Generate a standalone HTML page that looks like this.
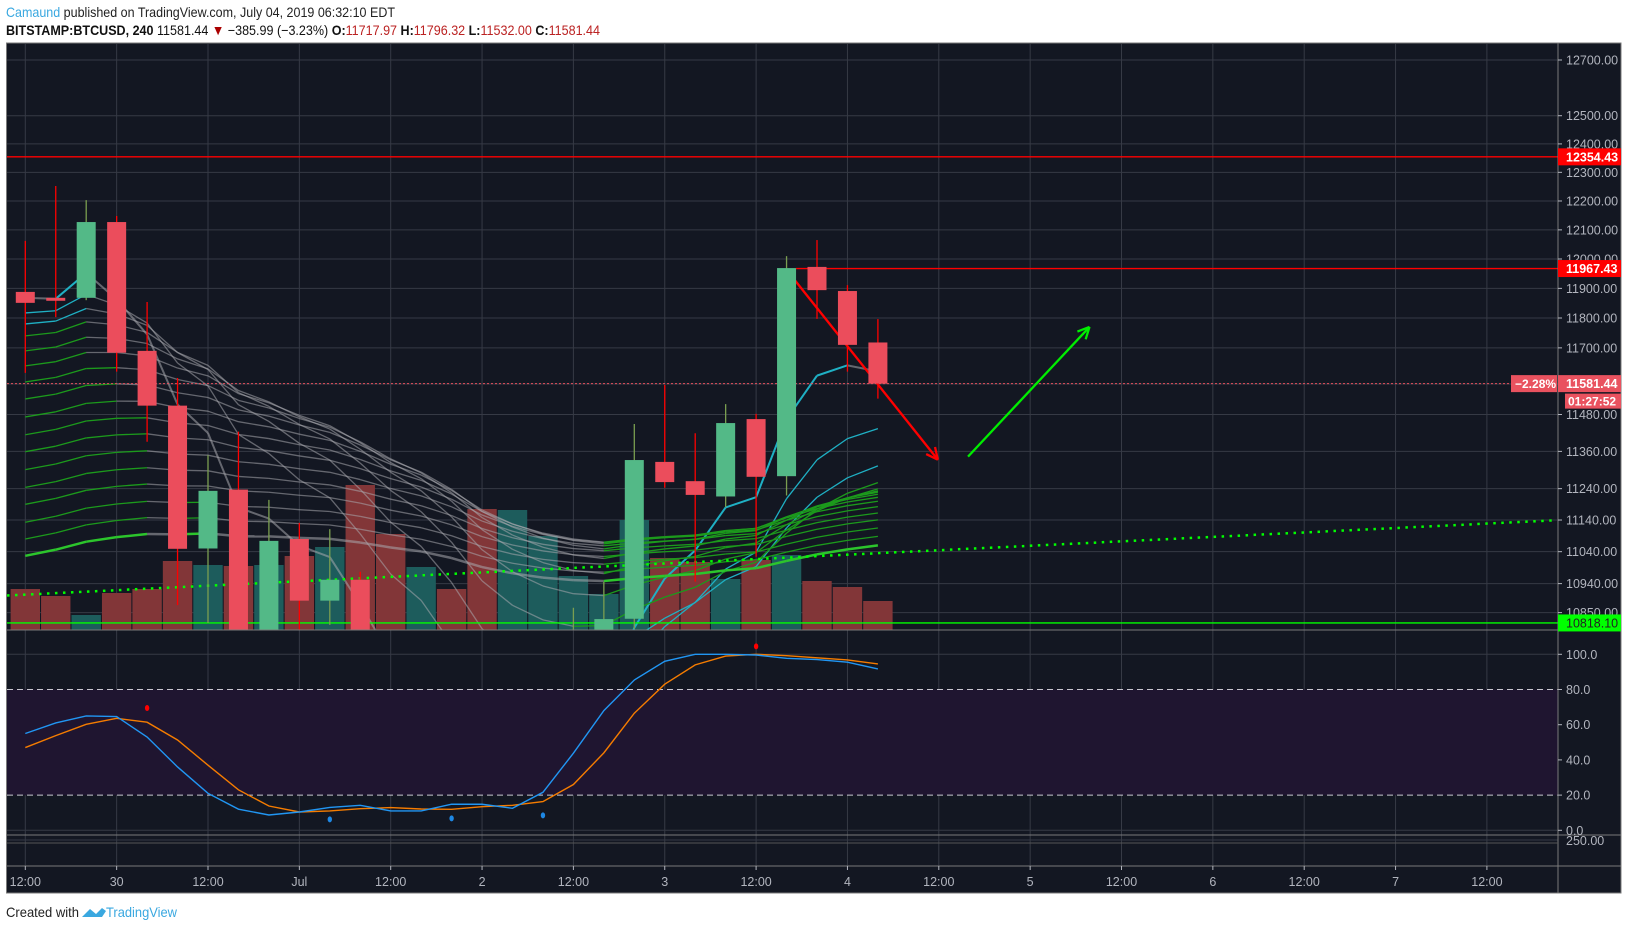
<!DOCTYPE html>
<html><head><meta charset="utf-8"><style>
html,body{margin:0;padding:0;background:#fff;width:1627px;height:930px;overflow:hidden;position:relative;}
svg{display:block;position:absolute;left:0;top:0;font-family:"Liberation Sans",sans-serif;}
</style></head><body>
<svg id="chart" width="1627" height="930" viewBox="0 0 1627 930" xmlns="http://www.w3.org/2000/svg">
<text x="6" y="17" font-size="14" fill="#3aa8e0" textLength="389" lengthAdjust="spacingAndGlyphs">Camaund<tspan fill="#222"> published on TradingView.com, July 04, 2019 06:32:10 EDT</tspan></text>
<text x="6" y="35" font-size="14" fill="#111" textLength="594" lengthAdjust="spacingAndGlyphs"><tspan font-weight="bold">BITSTAMP:BTCUSD, 240</tspan> 11581.44 <tspan fill="#a00">▼</tspan> −385.99 (−3.23%) <tspan font-weight="bold">O:</tspan><tspan fill="#b22">11717.97</tspan> <tspan font-weight="bold">H:</tspan><tspan fill="#b22">11796.32</tspan> <tspan font-weight="bold">L:</tspan><tspan fill="#b22">11532.00</tspan> <tspan font-weight="bold">C:</tspan><tspan fill="#b22">11581.44</tspan></text>
<rect x="6.5" y="43" width="1614.5" height="850" fill="#131722" stroke="#7a7a7a" stroke-width="1"/>
<defs>
<clipPath id="pc"><rect x="7" y="44" width="1551" height="586"/></clipPath>
<clipPath id="oc"><rect x="7" y="631" width="1551" height="204"/></clipPath>
</defs>
<g id="grid"></g>
<g id="vol" clip-path="url(#pc)"></g>
<g id="ribbon" clip-path="url(#pc)"></g>
<g id="draw" clip-path="url(#pc)"></g>
<g id="candles" clip-path="url(#pc)"></g>
<g id="osc" clip-path="url(#oc)"></g>
<g id="axes"></g>
<text x="6" y="917" font-size="14" fill="#222" textLength="73" lengthAdjust="spacingAndGlyphs">Created with</text>
<path d="M82 917 l8 -8 l6 5 l6 -6 l4 3 l-4 6 z" fill="#3aa8e0"/>
<text x="106" y="917" font-size="14" fill="#3aa8e0" textLength="71" lengthAdjust="spacingAndGlyphs">TradingView</text>
</svg>
<script>
// ---- data ----
const opens  = [11888,11868,11868,12127,11690,11509,11050,11237,10700,11080,10887,10952,10580,10400,10520,10150,9800,10150,10400,10620,10831,11326,11264,11215,11465,11280,11973,11891,11717.97];
const highs  = [12062,12252,12203,12148,11854,11600,11348,11424,11204,11131,11111,10977,10600,10700,10600,10300,10200,10450,10865,10946,11449,11577,11419,11514,11482,12010,12065,11911,11796.32];
const lows   = [11617,11803,11860,11621,11391,10873,10818,10600,10550,10650,10812,10300,10300,10250,10050,9700,9650,10100,10350,10600,10800,11243,10946,11181,11024,11218,11797,11621,11532];
const closes = [11851,11858,12127,11684,11509,11049,11233,10700,11074,10887,10952,10580,10400,10520,10150,9800,10150,10400,10620,10830,11332,11261,11220,11452,11278,11969,11894,11710,11581.44];
const volumes= [410,340,150,370,410,690,650,640,650,740,830,1450,960,630,410,1210,1200,940,540,360,1100,720,680,510,700,750,490,430,290];
const ribbonSeeds = [11868,11817,11780,11740,11690,11640,11587,11531,11472,11414,11359,11301,11244,11190,11133,11080,11027];
const ribbonLengths = [5,10,15,20,25,30,35,40,45,50,55,60,65,70,75,80,85];
const stochK = [55,61,65,64.6,53,36,21,12,8.7,10.4,13,14.2,11,11,14.8,14.8,12.5,21.6,43.8,68,85.4,96,100,100,99.6,97.7,97,95.5,91.7];
const stochD = [47,53.8,60.2,63.6,61.4,51.3,37,23,13.8,10.4,11,12.3,12.9,12.1,11.9,13.4,14.2,16.3,26,44,66.5,83,94,99,100,99.2,98,96.8,94.5];
const redDotIdx = [4,24], redDotVal=[69.5,104.5];
const blueDotIdx = [10,14,17], blueDotVal=[6.2,6.8,8.5];
const priceTicks = [12700,12500,12400,12300,12200,12100,12000,11900,11800,11700,11580,11480,11360,11240,11140,11040,10940,10850];
const oscTicks = [100,80,60,40,20,0];
const timeLabels = ["12:00","30","12:00","Jul","12:00","2","12:00","3","12:00","4","12:00","5","12:00","6","12:00","7","12:00"];
const hLevels = [12354.43,11967.43,10818.10];
const trendIdx=[-0.6,50.2], trendPrice=[10903,11139];
const redArrowIdx=[25.27,29.97], redArrowPrice=[11928,11333];
const greenArrowIdx=[30.96,34.95], greenArrowPrice=[11343,11770];
const lastPrice = 11581.44;

// ---- scales ----
const X = i => 25.3 + i*30.45;
const Y = p => 60 + 3510*(Math.log(12700) - Math.log(p));
const YO = v => 830.3 - v*1.76;
const YV = v => 630 - v/10;
const NS='http://www.w3.org/2000/svg';
function mk(tag, attrs, parent){const e=document.createElementNS(NS,tag);for(const k in attrs)e.setAttribute(k,attrs[k]);parent.appendChild(e);return e;}
const G=id=>document.getElementById(id);

// grid
const grid=G('grid');
priceTicks.forEach(p=>{const l=mk('line',{x1:7,x2:1558,y1:Y(p),y2:Y(p),stroke:'#363a45','stroke-width':1},grid);

});
oscTicks.forEach(v=>{if(v===80||v===20)return;const l=mk('line',{x1:7,x2:1558,y1:YO(v),y2:YO(v),stroke:'#363a45'},grid);

});
mk('line',{x1:7,x2:1558,y1:840,y2:840,stroke:'#363a45'},grid);
timeLabels.forEach((t,k)=>{const x=X(k*3);const l=mk('line',{x1:x,x2:x,y1:44,y2:866,stroke:'#363a45'},grid);

});
const band=mk('rect',{x:7,y:YO(80),width:1551,height:YO(20)-YO(80),fill:'#1f1530'},grid);


[80,20].forEach(v=>{const l=mk('line',{x1:7,x2:1558,y1:YO(v),y2:YO(v),stroke:'#c8c8d0','stroke-dasharray':'6 4'},grid);

});

// volumes
const vg=G('vol');
volumes.forEach((v,i)=>{const up=closes[i]>=opens[i];const r=mk('rect',{x:X(i)-14.7,y:YV(v),width:29.4,height:630-YV(v),fill:up?'#1d5c5c':'#823638'},vg);

});

// ribbon EMAs
const rg=G('ribbon');
ribbonLengths.forEach((L,k)=>{const a=2/(L+1);let e=ribbonSeeds[k];const vals=[e];
for(let i=1;i<closes.length;i++){e=e+a*(closes[i]-e);vals.push(e);}
for(let i=1;i<vals.length;i++){const up=vals[i]>=vals[i-1];
const col=up?(L<=15?'#1fb0c4':(k===ribbonLengths.length-1?'#2cc52c':'#1c9a1c')):'rgba(170,170,175,0.55)';
const s=mk('line',{x1:X(i-1),y1:Y(vals[i-1]),x2:X(i),y2:Y(vals[i]),stroke:col,'stroke-width':k===ribbonLengths.length-1?2.5:(k===0?2:1.3)},rg);

}});

// drawings
const dg=G('draw');
const tl=mk('line',{x1:X(trendIdx[0]),y1:Y(trendPrice[0]),x2:X(trendIdx[1]),y2:Y(trendPrice[1]),stroke:'#00ff00','stroke-width':2.5,'stroke-dasharray':'2.5 5.5'},dg);


const h1=mk('line',{x1:7,x2:1558,y1:Y(hLevels[0]),y2:Y(hLevels[0]),stroke:'#ff0000','stroke-width':1.3},dg);


const h2=mk('line',{x1:X(25)+9.5,x2:1558,y1:Y(hLevels[1]),y2:Y(hLevels[1]),stroke:'#ff0000','stroke-width':1.3},dg);


const h3=mk('line',{x1:7,x2:1558,y1:Y(hLevels[2]),y2:Y(hLevels[2]),stroke:'#00ff00','stroke-width':1.3},dg);


const cp=mk('line',{x1:7,x2:1558,y1:Y(lastPrice),y2:Y(lastPrice),stroke:'#e9525f','stroke-width':1,'stroke-dasharray':'2 2'},dg);



// candles
const cg=G('candles');
opens.forEach((o,i)=>{const c=closes[i],up=c>=o,x=X(i);
const w=mk('line',{x1:x,x2:x,y1:Y(highs[i]),y2:Y(lows[i]),stroke:up?'#7a9e50':'#ff0000','stroke-width':1.3},cg);


const t=Y(Math.max(o,c)),b=Y(Math.min(o,c));
const r=mk('rect',{x:x-9.5,y:t,width:19,height:Math.max(1,b-t),fill:up?'#53b987':'#eb4d5c'},cg);

});

// arrows
function arrow(ix,pr,col,name){const x1=X(ix[0]),y1=Y(pr[0]),x2=X(ix[1]),y2=Y(pr[1]);
const g=mk('g',{},G('draw'));


mk('line',{x1,y1,x2,y2,stroke:col,'stroke-width':2.3},g);
const ang=Math.atan2(y2-y1,x2-x1),L=13;
[0.45,-0.45].forEach(d=>{mk('line',{x1:x2,y1:y2,x2:x2-L*Math.cos(ang+d),y2:y2-L*Math.sin(ang+d),stroke:col,'stroke-width':2.3},g);});}
arrow(redArrowIdx,redArrowPrice,'#ff0000','red-down-arrow');
arrow(greenArrowIdx,greenArrowPrice,'#00ee00','green-up-arrow');

// oscillator
const og=G('osc');
function poly(vals,col,name){const p=mk('polyline',{points:vals.map((v,i)=>X(i)+','+YO(v)).join(' '),fill:'none',stroke:col,'stroke-width':1.4},og);

}
poly(stochD,'#f57c00','stoch-d-line');
poly(stochK,'#2196f3','stoch-k-line');
redDotIdx.forEach((i,k)=>{const c=mk('ellipse',{cx:X(i),cy:YO(redDotVal[k]),rx:2.2,ry:3,fill:'#ff0000'},og);

});
blueDotIdx.forEach((i,k)=>{const c=mk('ellipse',{cx:X(i),cy:YO(blueDotVal[k]),rx:2.2,ry:3,fill:'#1e88e5'},og);

});

// axes
const ax=G('axes');
[[1558,43,1558,893],[7,630,1621,630],[7,835,1621,835],[7,866,1621,866]].forEach(a=>{const l=mk('line',{x1:a[0],y1:a[1],x2:a[2],y2:a[3],stroke:'#7a7a7a'},ax);

});
mk('line',{x1:7,x2:1558,y1:843,y2:843,stroke:'#555'},ax);
priceTicks.forEach(p=>{mk('line',{x1:1558,x2:1562,y1:Y(p),y2:Y(p),stroke:'#b2b5be'},ax);
const t=mk('text',{x:1566,y:Y(p)+4.5,'font-size':12.5,fill:'#b2b5be'},ax);t.textContent=p.toFixed(2);

});
oscTicks.forEach(v=>{mk('line',{x1:1558,x2:1562,y1:YO(v),y2:YO(v),stroke:'#b2b5be'},ax);
const t=mk('text',{x:1566,y:YO(v)+4.5,'font-size':12.5,fill:'#b2b5be'},ax);t.textContent=v.toFixed(1);

});
const t250=mk('text',{x:1566,y:845,'font-size':12.5,fill:'#b2b5be'},ax);t250.textContent='250.00';


timeLabels.forEach((s,k)=>{const x=X(k*3);mk('line',{x1:x,x2:x,y1:866,y2:870,stroke:'#b2b5be'},ax);
const t=mk('text',{x:x,y:886,'font-size':12.5,fill:'#b2b5be','text-anchor':'middle'},ax);t.textContent=s;

});
function tag(p,bg,fg,name,txt){const y=Y(p);const r=mk('rect',{x:1558,y:y-8.5,width:63,height:17,fill:bg},ax);


const t=mk('text',{x:1566,y:y+4.5,'font-size':12.5,'font-weight':fg==='#fff'?'bold':'normal',fill:fg},ax);t.textContent=txt||p.toFixed(2);}
tag(hLevels[0],'#ff0000','#fff','level-label-12354');
tag(hLevels[1],'#ff0000','#fff','level-label-11967');
tag(hLevels[2],'#00ff00','#222','level-label-10818');
tag(lastPrice,'#e9525f','#fff','last-price-label');
const pr=mk('rect',{x:1511,y:Y(lastPrice)-8.5,width:46,height:17,fill:'#e9525f'},ax);


const pt=mk('text',{x:1515,y:Y(lastPrice)+4.5,'font-size':12,'font-weight':'bold',fill:'#fff'},ax);pt.textContent='−2.28%';
const cr=mk('rect',{x:1565,y:Y(lastPrice)+10,width:56,height:15,fill:'#e9525f'},ax);


const ct=mk('text',{x:1568,y:Y(lastPrice)+22,'font-size':12,'font-weight':'bold',fill:'#fff'},ax);ct.textContent='01:27:52';
</script>
</body></html>
